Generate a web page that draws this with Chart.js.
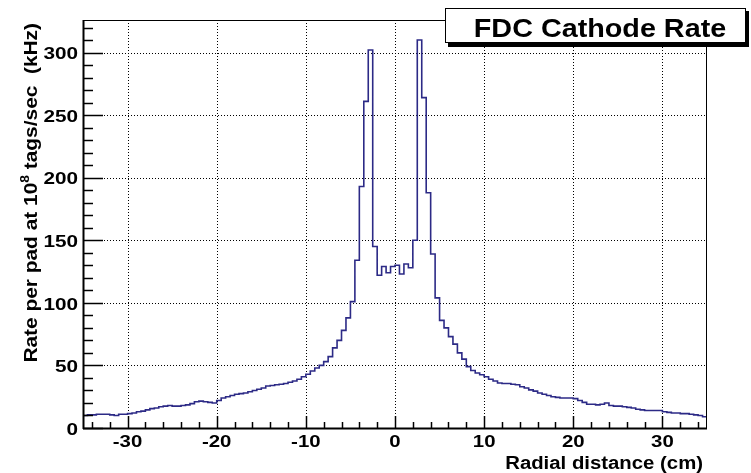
<!DOCTYPE html>
<html>
<head>
<meta charset="utf-8">
<script src="https://cdn.jsdelivr.net/npm/chart.js@4.4.1/dist/chart.umd.min.js"></script>
<style>
html,body{margin:0;padding:0;background:#fff;}
</style>
</head>
<body>
<canvas id="mainChart" width="751" height="473"></canvas>
<script>
// histogram binning (cm)
const xLow = -35;
const binWidth = 0.5;

// rate per bin (kHz), 140 bins from -35 to 35
const rates = [
    10, 10.5, 10.5, 11, 11, 11, 10.5, 10, 11, 11,
    11.5, 12, 13, 13.5, 14.5, 15.5, 16, 17, 17.5, 18,
    17.5, 17.5, 18, 18.5, 19.5, 21, 21.5, 21, 20.5, 20,
    22, 24, 25, 26, 27, 27.5, 28, 29, 30, 31,
    32, 33.5, 34, 34.5, 35, 35.5, 36.5, 37.5, 39, 41,
    43, 45.5, 48, 50, 53, 57, 64, 70, 78, 88,
    101, 134, 193, 261, 302, 145, 122, 129, 124, 129,
    130, 123, 131, 128, 150, 310, 264, 188, 139, 104,
    86, 80, 73, 67, 60, 55, 49, 46, 44, 42.5,
    41, 39, 37.5, 36, 35.5, 35.5, 35, 34.5, 33, 32,
    30.5, 29.5, 28, 27, 26, 25, 24.5, 24, 24, 24,
    23.5, 22, 20.5, 19, 19, 18.5, 19, 20, 18, 17.5,
    17.5, 17, 16.5, 16, 15, 14.5, 14, 14, 14, 14,
    13, 12.5, 12, 12, 11.5, 11.5, 11, 10.5, 10, 9
];

const xTickLabels = [-30, -20, -10, 0, 10, 20, 30];
const yTickLabels = [0, 50, 100, 150, 200, 250, 300];

const chartTitle = "FDC Cathode Rate";
const xTitle = "Radial distance (cm)";
const yTitleParts = ["Rate per pad at 10", "8", " tags/sec  (kHz)"];

// points at the low edge of each bin, last one closes the final bin
let histPoints = [];
for (let i = 0; i < rates.length; i++) {
    histPoints.push({x: xLow + i * binWidth, y: rates[i]});
}
histPoints.push({x: xLow + rates.length * binWidth, y: rates[rates.length - 1]});

function line(ctx, x1, y1, x2, y2) {
    ctx.beginPath();
    ctx.moveTo(x1, y1);
    ctx.lineTo(x2, y2);
    ctx.stroke();
}

// ROOT text looks wider than Arial, so stretch it a bit
function wideText(ctx, txt, x, y, sx, align) {
    ctx.save();
    ctx.translate(x, y);
    ctx.scale(sx, 1);
    ctx.textAlign = align;
    ctx.fillText(txt, 0, 0);
    ctx.restore();
}

const FONT = '"Liberation Sans", Arial, sans-serif';

const rootStyle = {
    id: 'rootStyle',
    beforeDatasetsDraw(chart) {
        const ctx = chart.ctx, a = chart.chartArea;
        const xs = chart.scales.x, ys = chart.scales.y;
        ctx.save();
        ctx.strokeStyle = '#000';
        ctx.lineWidth = 1;
        ctx.setLineDash([1, 2]);
        xTickLabels.forEach(v => {
            let px = Math.round(xs.getPixelForValue(v)) + 0.5;
            line(ctx, px, a.top, px, a.bottom);
        });
        yTickLabels.forEach(v => {
            if (v == 0) return;
            let py = Math.round(ys.getPixelForValue(v)) + 0.5;
            line(ctx, a.left, py, a.right, py);
        });
        ctx.restore();
    },
    afterDraw(chart) {
        const ctx = chart.ctx, a = chart.chartArea;
        const xs = chart.scales.x, ys = chart.scales.y;
        ctx.save();
        ctx.strokeStyle = '#000';
        ctx.fillStyle = '#000';

        // frame
        ctx.lineWidth = 1;
        ctx.strokeRect(a.left + 0.5, a.top + 0.5, a.right - a.left - 1, a.bottom - a.top);
        ctx.lineWidth = 2;
        line(ctx, a.left + 0.5, a.top, a.left + 0.5, a.bottom + 1);
        line(ctx, a.left, a.bottom + 0.5, a.right, a.bottom + 0.5);

        // ticks (inside), 5 divisions per major
        ctx.lineWidth = 1.5;
        let yStep = (yTickLabels[1] - yTickLabels[0]) / 5;
        for (let v = 0; v <= ys.max; v += yStep) {
            let py = Math.round(ys.getPixelForValue(v)) + 0.5;
            let len = (v % 50 == 0) ? 20 : 10;
            line(ctx, a.left, py, a.left + len, py);
        }
        let xStep = (xTickLabels[1] - xTickLabels[0]) / 5;
        for (let v = xs.min + 1; v < xs.max; v += xStep) {
            let px = Math.round(xs.getPixelForValue(v)) + 0.5;
            let len = (Math.round(v) % 10 == 0) ? 12 : 6;
            line(ctx, px, a.bottom, px, a.bottom - len);
        }

        // tick labels
        ctx.font = 'bold 17px ' + FONT;
        ctx.textBaseline = 'middle';
        yTickLabels.forEach(v => {
            wideText(ctx, String(v), a.left - 5, ys.getPixelForValue(v) + 2, 1.22, 'right');
        });
        ctx.textBaseline = 'alphabetic';
        xTickLabels.forEach(v => {
            wideText(ctx, String(v), xs.getPixelForValue(v), a.bottom + 19, 1.2, 'center');
        });

        // x title
        ctx.font = 'bold 18px ' + FONT;
        wideText(ctx, xTitle, a.right - 4, 469, 1.13, 'right');

        // y title, rotated, aligned to the top of the axis
        let sx = 1.16;
        ctx.font = 'bold 18px ' + FONT;
        let w0 = ctx.measureText(yTitleParts[0]).width;
        let w2 = ctx.measureText(yTitleParts[2]).width;
        ctx.font = 'bold 12px ' + FONT;
        let w1 = ctx.measureText(yTitleParts[1]).width;
        let total = (w0 + w1 + w2) * sx;
        ctx.save();
        ctx.translate(37, 23 + total);
        ctx.rotate(-Math.PI / 2);
        ctx.scale(sx, 1);
        ctx.textAlign = 'left';
        ctx.font = 'bold 18px ' + FONT;
        ctx.fillText(yTitleParts[0], 0, 0);
        ctx.font = 'bold 12px ' + FONT;
        ctx.fillText(yTitleParts[1], w0, -8);
        ctx.font = 'bold 18px ' + FONT;
        ctx.fillText(yTitleParts[2], w0 + w1, 0);
        ctx.restore();

        // title box with shadow
        ctx.fillStyle = '#000';
        ctx.fillRect(448, 11, 301, 36);
        ctx.fillStyle = '#fff';
        ctx.fillRect(445, 8, 301, 35);
        ctx.lineWidth = 1;
        ctx.strokeRect(445.5, 8.5, 300, 34);
        ctx.fillStyle = '#000';
        ctx.font = 'bold 25px ' + FONT;
        wideText(ctx, chartTitle, 600, 37, 1.15, 'center');

        ctx.restore();
    }
};

new Chart(document.getElementById('mainChart'), {
    type: 'line',
    data: {
        datasets: [{
            data: histPoints,
            borderColor: '#2c2a86',
            borderWidth: 1.6,
            stepped: true,
            pointRadius: 0,
            fill: false
        }]
    },
    options: {
        responsive: false,
        devicePixelRatio: 1,
        animation: false,
        layout: {
            padding: {left: 0, right: 44, top: 20, bottom: 0}
        },
        plugins: {
            legend: {display: false},
            tooltip: {enabled: false}
        },
        scales: {
            x: {
                type: 'linear',
                min: -35,
                max: 35,
                ticks: {display: false, stepSize: 10},
                grid: {display: false},
                border: {display: false},
                afterFit: function (s) { s.height = 45; }
            },
            y: {
                min: 0,
                max: 326,
                ticks: {display: false, stepSize: 50},
                grid: {display: false},
                border: {display: false},
                afterFit: function (s) { s.width = 83; }
            }
        }
    },
    plugins: [rootStyle]
});
</script>
</body>
</html>
